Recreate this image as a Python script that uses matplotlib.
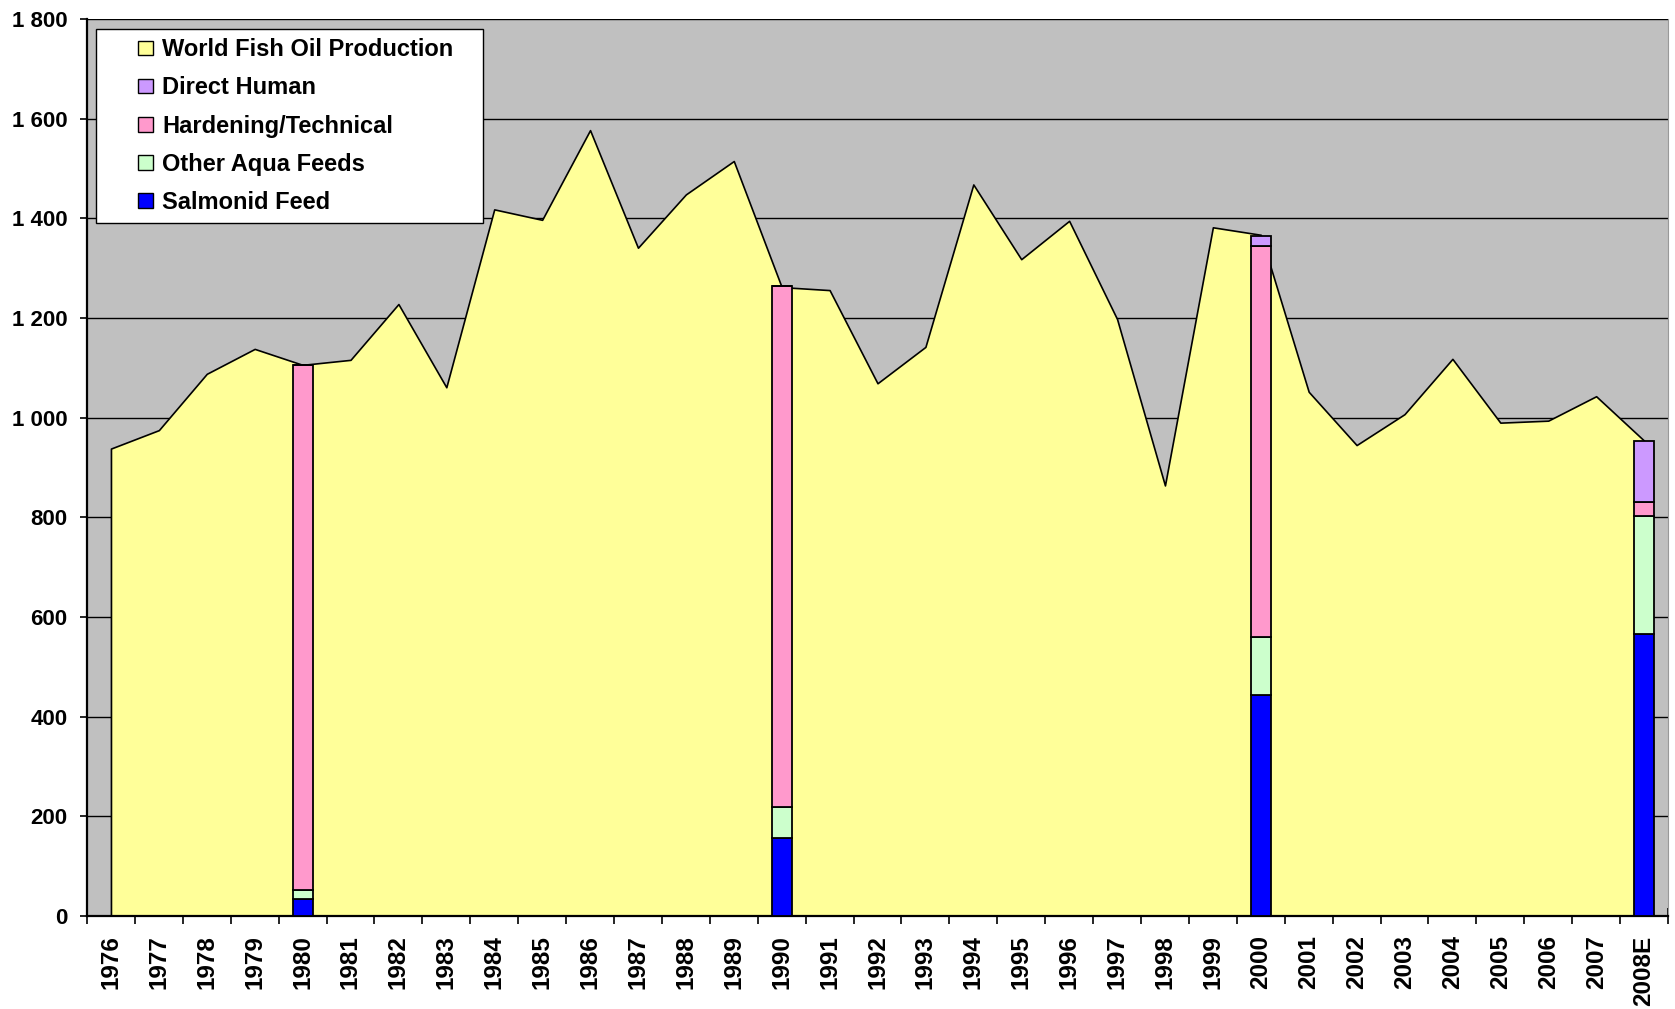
import numpy as np
import matplotlib
matplotlib.use("Agg")
import matplotlib.pyplot as plt
from matplotlib.patches import Patch, Rectangle
from matplotlib.legend_handler import HandlerPatch
from matplotlib.ticker import FuncFormatter

plt.rcParams["font.family"] = ["Liberation Sans", "DejaVu Sans"]
plt.rcParams["font.weight"] = "bold"

years = [str(y) for y in range(1976, 2008)] + ["2008E"]
production = [938, 975, 1088, 1138, 1106, 1116, 1228, 1061, 1418, 1397,
              1577, 1341, 1448, 1515, 1262, 1256, 1069, 1142, 1468, 1318,
              1395, 1198, 864, 1382, 1367, 1052, 945, 1007, 1118, 990,
              994, 1043, 954]

bar_years = ["1980", "1990", "2000", "2008E"]
salmonid = [34, 157, 444, 566]
other_aqua = [18, 62, 116, 237]
hardening = [1054, 1045, 784, 27]
direct_human = [0, 0, 21, 123]

COLORS = {
    "World Fish Oil Production": "#FFFF99",
    "Direct Human": "#CC99FF",
    "Hardening/Technical": "#FF99CC",
    "Other Aqua Feeds": "#CCFFCC",
    "Salmonid Feed": "#0000FF",
}

fig = plt.figure(figsize=(16.75, 10.09), dpi=100)
ax = fig.add_axes([87 / 1675, 93 / 1009, 1581 / 1675, 897 / 1009])
ax.set_facecolor("#C0C0C0")

x = np.arange(len(years))
ax.fill_between(x, production, 0, facecolor=COLORS["World Fish Oil Production"],
                edgecolor="black", linewidth=1.2, zorder=2)

bx = [years.index(y) for y in bar_years]
bottom = np.zeros(len(bx))
for name, vals in [("Salmonid Feed", salmonid), ("Other Aqua Feeds", other_aqua),
                   ("Hardening/Technical", hardening), ("Direct Human", direct_human)]:
    vals = np.array(vals, dtype=float)
    ax.bar(bx, vals, width=0.42, bottom=bottom, color=COLORS[name],
           edgecolor="black", linewidth=1.3, zorder=3)
    bottom += vals

ax.set_xlim(-0.5, len(years) - 0.5)
ax.set_ylim(0, 1800)
ax.set_yticks(range(0, 1801, 200))
ax.yaxis.set_major_formatter(FuncFormatter(lambda v, p: f"{int(v):,}".replace(",", " ")))
ax.grid(axis="y", color="black", linewidth=1.0, zorder=1)
ax.set_axisbelow(True)

ax.set_xticks(x)
ax.set_xticklabels(years, rotation=90, va="top")
ax.set_xticks(np.arange(-0.5, len(years), 1.0), minor=True)
ax.tick_params(axis="x", which="major", length=0, pad=14, labelsize=17.5)
ax.tick_params(axis="x", which="minor", direction="inout", length=12, width=1.2)
ax.tick_params(axis="y", direction="out", length=5, width=1.2, pad=9, labelsize=16)

for s in ["left", "bottom"]:
    ax.spines[s].set_linewidth(1.6)
ax.spines["top"].set_visible(False)
ax.spines["right"].set_color("#999999")


def square(legend, orig_handle, xdescent, ydescent, width, height, fontsize):
    size = 10.5
    return Rectangle((width - size - xdescent, (height - size) / 2 - ydescent), size, size)


handles = [Patch(facecolor=COLORS[n], edgecolor="black", linewidth=1.0, label=n)
           for n in COLORS]
leg = ax.legend(handles=handles, loc="upper left",
                bbox_to_anchor=(9 / 1581, 0.3, 387 / 1581, 0.989 - 0.3),
                mode="expand", fontsize=17, frameon=True, fancybox=False,
                edgecolor="black", framealpha=1, borderpad=0.4,
                handlelength=2.0, handleheight=0.7, handletextpad=0.4,
                labelspacing=0.64, borderaxespad=0,
                handler_map={Patch: HandlerPatch(patch_func=square)})
leg.get_frame().set_linewidth(1.0)
leg.set_zorder(5)

plt.savefig("out.png", dpi=100)
